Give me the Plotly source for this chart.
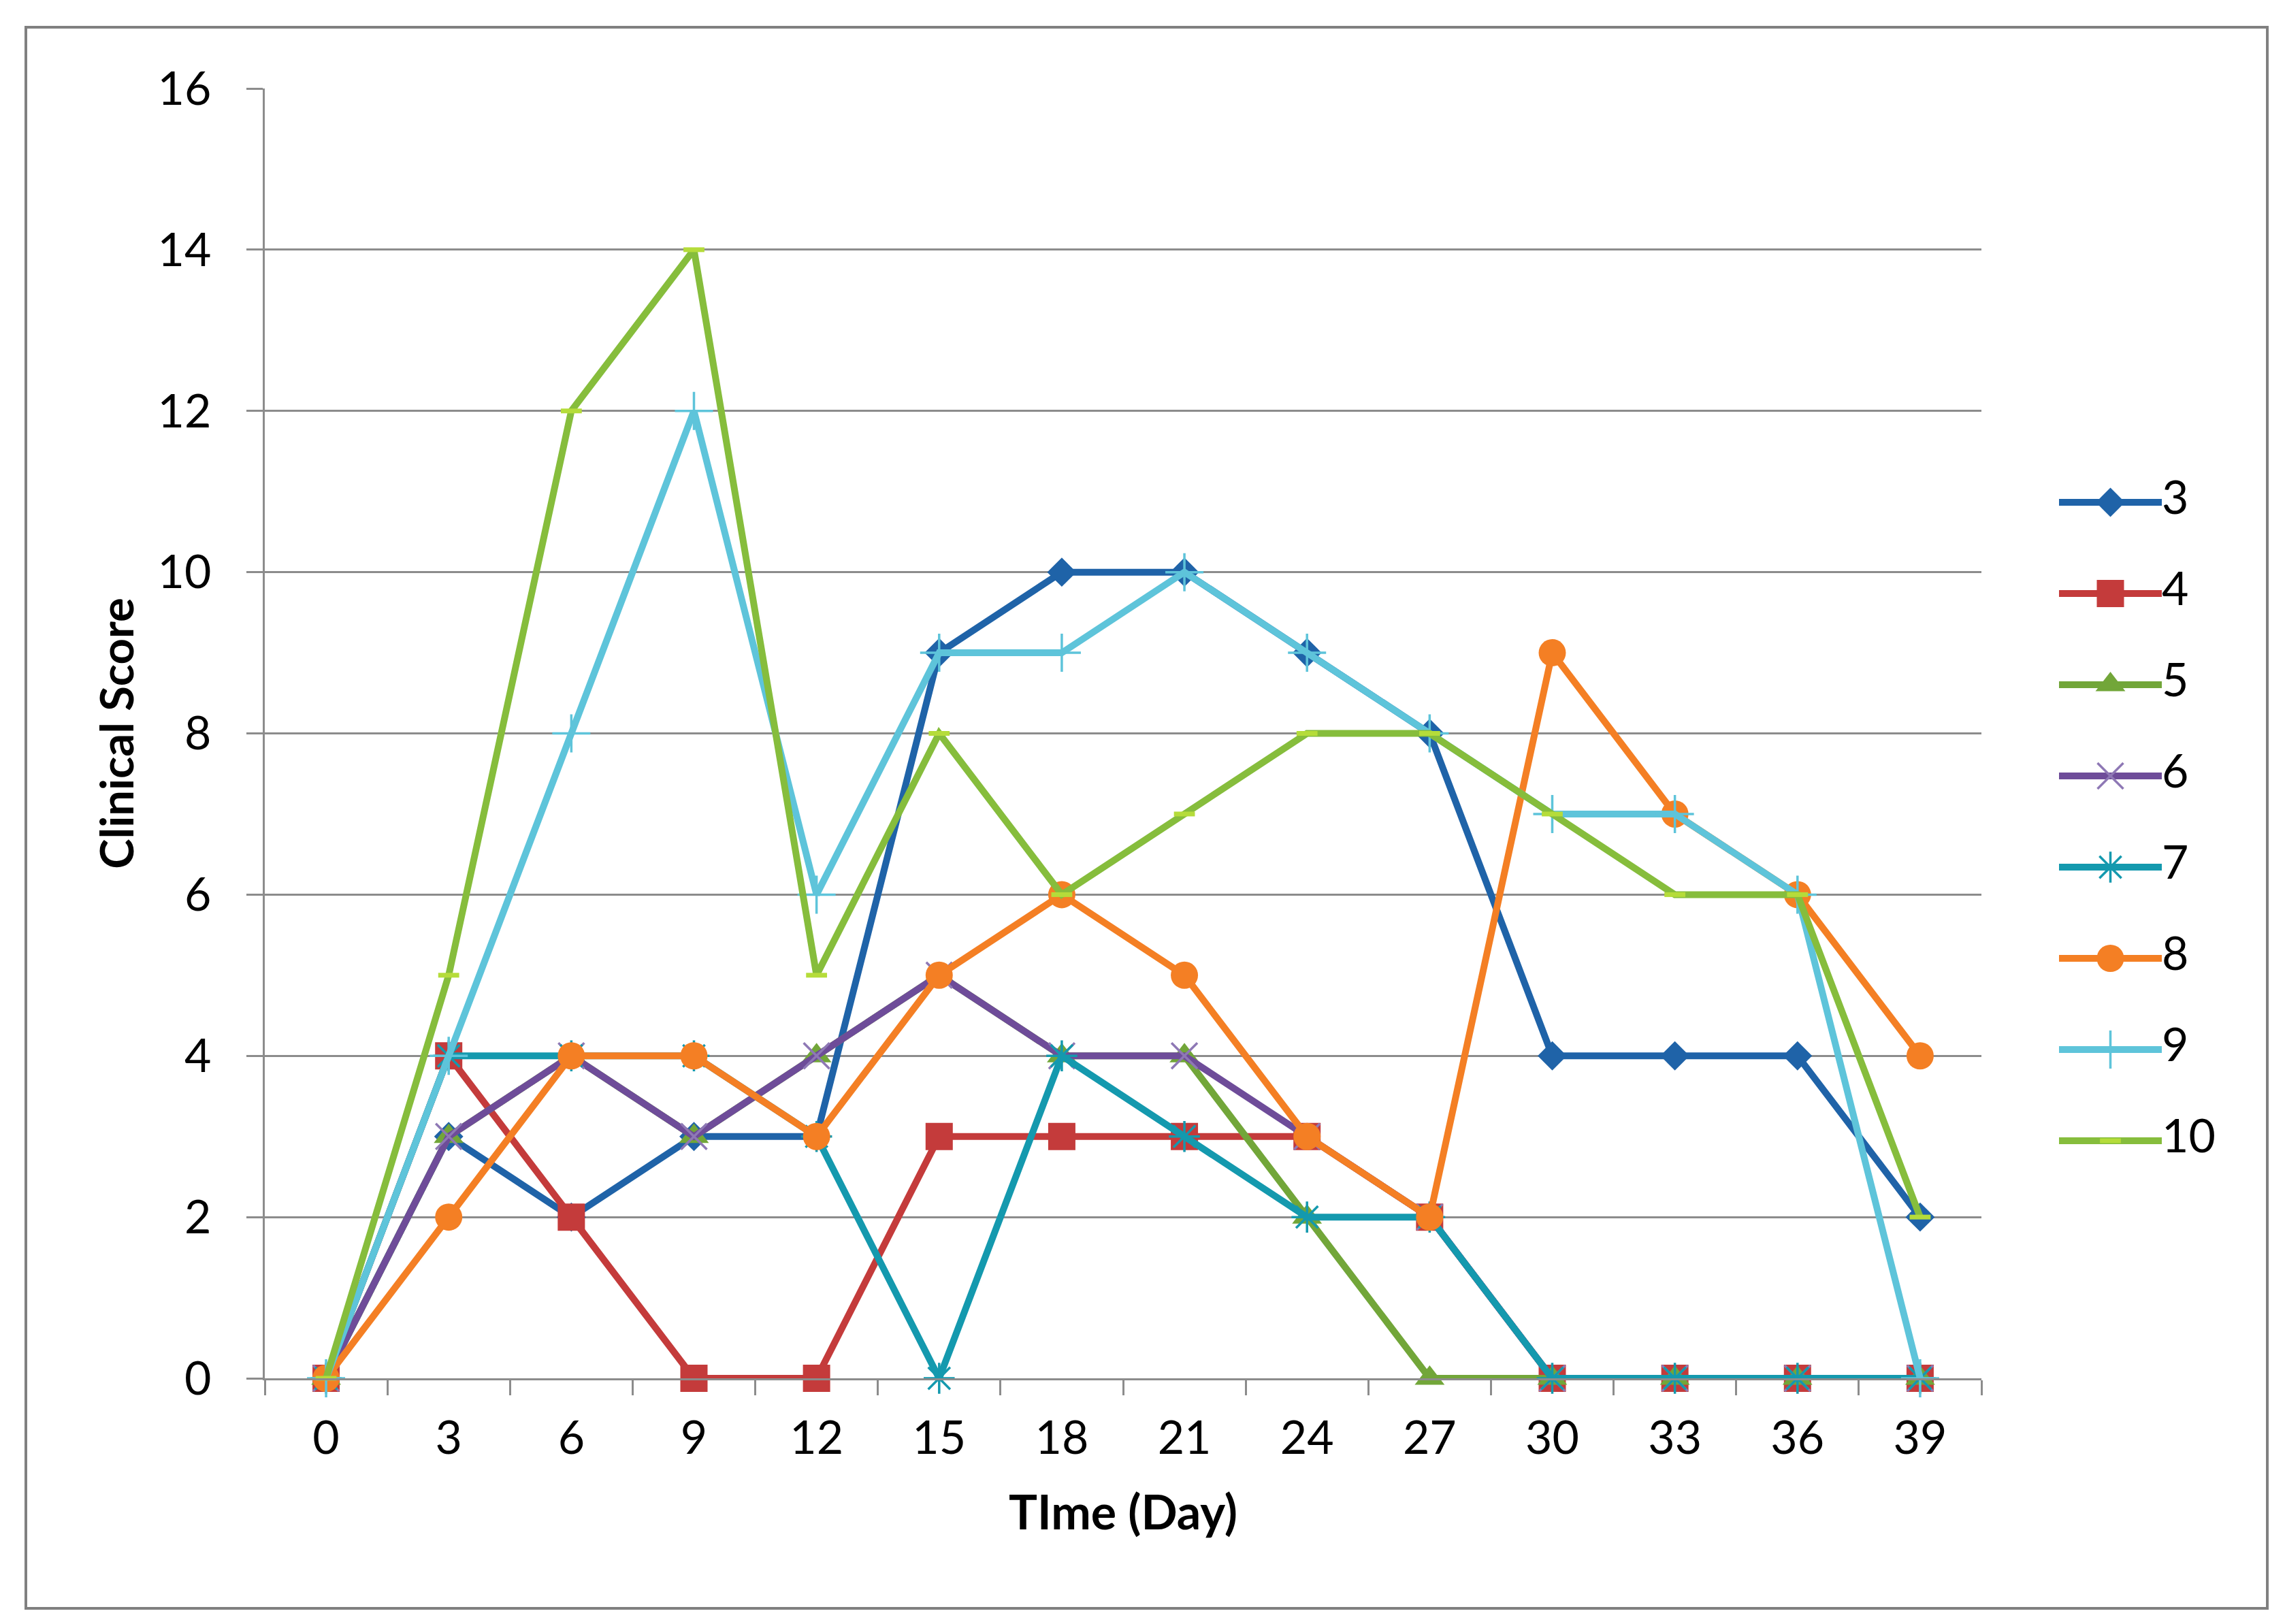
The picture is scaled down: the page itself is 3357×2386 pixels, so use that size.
import plotly.graph_objects as go

days = ["0", "3", "6", "9", "12", "15", "18", "21", "24", "27", "30", "33", "36", "39"]

s3 = [0, 3, 2, 3, 3, 9, 10, 10, 9, 8, 4, 4, 4, 2]
s4 = [0, 4, 2, 0, 0, 3, 3, 3, 3, 2, 0, 0, 0, 0]
s5 = [0, 3, 4, 3, 4, 5, 4, 4, 2, 0, 0, 0, 0, 0]
s6 = [0, 3, 4, 3, 4, 5, 4, 4, 3, 2, 0, 0, 0, 0]
s7 = [0, 4, 4, 4, 3, 0, 4, 3, 2, 2, 0, 0, 0, 0]
s8 = [0, 2, 4, 4, 3, 5, 6, 5, 3, 2, 9, 7, 6, 4]
s9 = [0, 4, 8, 12, 6, 9, 9, 10, 9, 8, 7, 7, 6, 0]
s10 = [0, 5, 12, 14, 5, 8, 6, 7, 8, 8, 7, 6, 6, 2]

series_names = ["3", "4", "5", "6", "7", "8", "9", "10"]
series_values = [s3, s4, s5, s6, s7, s8, s9, s10]
colors = ["#1F63A8", "#C43B3B", "#72A639", "#6E4C99", "#1499AE", "#F47F24", "#5EC4DA", "#86BD3C"]
symbols = ["diamond", "square", "triangle-up", "x-thin", "asterisk", "circle", "cross-thin", "line-ew"]
sizes = [33, 40, 38, 38, 38, 40, 40, 22]
line_marker = [None, None, None, 3.5, 3.5, None, 3.5, 7]
marker_line_colors = [None, None, None, "#8E78B5", "#1499AE", None, "#5EC4DA", "#B5DC3A"]

FONT = "Lato"
LW = 10

W, H = 3357, 2386
L, T, B = 381, 122, 2017
PR = 2903          # right edge of the chart plot area
AR = 3330          # right edge of the whole axes region (incl. legend area)
aw, ah = AR - L, B - T


def px(x):
    return (x - L) / aw


def py(y):
    return (B - y) / ah


def marker_for(i, size):
    mk = dict(symbol=symbols[i], size=size, color=colors[i], opacity=1)
    if line_marker[i]:
        mk["line"] = dict(width=line_marker[i], color=marker_line_colors[i])
    else:
        mk["line"] = dict(width=0)
    return mk


fig = go.Figure()
for i, (name, vals) in enumerate(zip(series_names, series_values)):
    fig.add_trace(go.Scatter(
        x=days, y=vals, name=name, mode="lines+markers",
        line=dict(color=colors[i], width=LW),
        marker=marker_for(i, sizes[i]), showlegend=False, cliponaxis=False,
    ))

# legend drawn on an overlay axis: row k sits at pixel 730 + 134*k
ROW0, ROWSTEP = 730, 134
y2_top = (T - ROW0) / ROWSTEP
y2_bot = (B - ROW0) / ROWSTEP
for k, name in enumerate(series_names):
    fig.add_trace(go.Scatter(
        x=[0, 0.5, 1], y=[k, k, k], mode="lines+markers+text",
        text=["", "", name], textposition="middle right",
        textfont=dict(family=FONT, size=68, color="#000000"),
        line=dict(color=colors[k], width=LW), marker=marker_for(k, [0, sizes[k], 0]),
        xaxis="x2", yaxis="y2", showlegend=False, cliponaxis=False, hoverinfo="skip",
    ))

fig.update_layout(
    width=W, height=H,
    margin=dict(l=L, r=W - AR, t=T, b=H - B, autoexpand=False),
    paper_bgcolor="white", plot_bgcolor="white",
    font=dict(family=FONT, size=68, color="#000000"),
    showlegend=False,
    xaxis=dict(
        domain=[0, (PR - L) / aw],
        type="category", range=[-0.5, 13.5],
        showgrid=False, showline=True, linecolor="#8C8C8C", linewidth=3,
        ticks="outside", tickson="boundaries", ticklen=22, tickwidth=3, tickcolor="#8C8C8C",
        tickfont=dict(family=FONT, size=68), ticklabelstandoff=26,
        title=dict(text="<b>TIme (Day)</b>", font=dict(family=FONT, size=70), standoff=50),
        zeroline=False,
    ),
    yaxis=dict(
        range=[0, 16], dtick=2, tick0=0,
        showgrid=True, gridcolor="#8C8C8C", gridwidth=3,
        showline=True, linecolor="#8C8C8C", linewidth=3,
        ticks="outside", ticklen=24, tickwidth=3, tickcolor="#8C8C8C",
        tickfont=dict(family=FONT, size=68), ticklabelstandoff=38,
        title=dict(text="<b>Clinical Score</b>", font=dict(family=FONT, size=67), standoff=14),
        zeroline=False,
    ),
    xaxis2=dict(
        domain=[px(3017), px(3168)], range=[0, 1], anchor="y2",
        visible=False, showgrid=False, zeroline=False,
    ),
    yaxis2=dict(
        domain=[0, 1], range=[y2_bot, y2_top], anchor="x2",
        visible=False, showgrid=False, zeroline=False,
    ),
    shapes=[dict(
        type="rect", xref="paper", yref="paper",
        x0=px(30), x1=px(3323), y0=py(2355), y1=py(32),
        line=dict(color="#808080", width=4), fillcolor="rgba(0,0,0,0)", layer="below",
    )],
)

fig.write_html("out.html")
